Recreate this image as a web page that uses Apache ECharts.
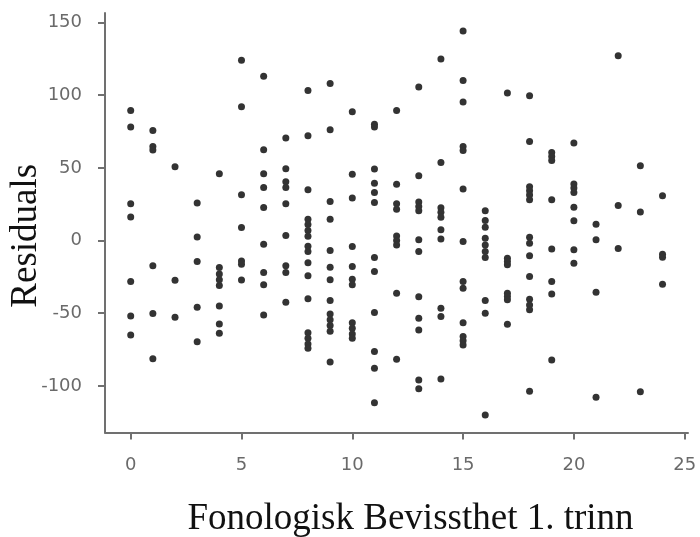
<!DOCTYPE html>
<html>
<head>
<meta charset="utf-8">
<script src="https://cdn.jsdelivr.net/npm/echarts@6/dist/echarts.min.js"></script>
<style>
html,body{margin:0;padding:0;background:#fff;}
#chart{width:700px;height:537px;}
</style>
</head>
<body>
<div id="chart"></div>
<script>
// Fonologisk Bevissthet 1. trinn scores (x)
const scores = [0,1,2,3,4,5,6,7,8,9,10,11,12,13,14,15,16,17,18,19,20,21,22,23,24];
// Residuals per score
const residualsByScore = [
  [89.5, 78.1, 25.3, 16.2, -28.2, -51.9, -65],
  [75.8, 64.7, 62.4, -17.3, -50.2, -81.3],
  [50.8, -27.3, -52.8],
  [25.9, 2.5, -14.5, -45.9, -69.6],
  [45.9, -18.5, -23, -27, -31, -45, -57.5, -63.8],
  [124, 92, 31.5, 9, -14, -16.3, -27.1],
  [113, 62.5, 46, 36.5, 22.7, -2.5, -22, -30.5, -51.2],
  [70.5, 49.4, 40.5, 36.5, 25.3, 3.4, -17.4, -22, -42.4],
  [103.3, 72.1, 34.9, 14.7, 11, 7, 3, -4, -7.6, -15.2, -24.3, -40.1, -63.4, -67.3, -71.2, -74.2],
  [108, 76.2, 26.9, 14.7, -6.9, -18.3, -27, -41.3, -50.5, -54.5, -58.5, -62.5, -83.5],
  [88.6, 45.7, 29.2, -4.1, -17.9, -26.6, -30.5, -56.5, -60.4, -64.3, -67.3],
  [80.1, 78.1, 49.2, 39.5, 33.1, 26.2, -11.7, -21.3, -49.6, -76.4, -87.9, -111.6],
  [89.5, 38.8, 25.3, 21.6, 3.2, 0, -3, -36.2, -81.7],
  [105.6, 44.6, 26.5, 23.5, 20.5, 0.5, -7.6, -38.6, -53.4, -61.5, -96, -102],
  [124.9, 53.7, 22.5, 19.5, 16, 7.4, 1, -46.6, -52.3, -95.3],
  [144.2, 110.2, 95.3, 64.7, 62, 35.4, -0.7, -28.2, -32.8, -56.5, -66.1, -68.9, -71.9],
  [20.5, 13.8, 9.2, 1.6, -3, -7.6, -11.7, -41.3, -50, -120],
  [101.5, -12.1, -14.4, -16.7, -36.2, -38.5, -40.8, -57.6],
  [99.6, 68.2, 37, 34.2, 31.3, 28, 2.3, -1.8, -10.5, -24.8, -40.4, -44.3, -47.7, -103.7],
  [60.6, 57.9, 55.1, 28, -5.9, -28.2, -36.7, -82.2],
  [67.1, 39, 36.1, 33.1, 23, 13.6, -6.4, -15.6],
  [11.3, 0.5, -35.5, -107.9],
  [127.2, 24.1, -5.5],
  [51.4, 19.7, -104],
  [30.8, -9.4, -11.5, -30.1]
];
const xTicks = [0, 5, 10, 15, 20, 25];
const yTicks = [-100, -50, 0, 50, 100, 150];
const xTitle = 'Fonologisk Bevissthet 1. trinn';
const yTitle = 'Residuals';

const points = [];
scores.forEach(function (s, i) {
  residualsByScore[i].forEach(function (r) { points.push([s, r]); });
});

const chart = echarts.init(document.getElementById('chart'), null, {renderer: 'canvas'});
const axisColor = '#707070';
const labelFont = 'DejaVu Sans, Verdana, sans-serif';
chart.setOption({
  animation: false,
  backgroundColor: '#ffffff',
  grid: {left: 105, right: 12, top: 13, bottom: 104.5, containLabel: false, outerBoundsMode: 'none'},
  xAxis: {
    type: 'value',
    min: -1.16,
    max: 25.15,
    splitLine: {show: false},
    axisLine: {show: true, onZero: false, lineStyle: {color: axisColor, width: 2}},
    axisTick: {show: true, length: 7, customValues: xTicks, lineStyle: {color: axisColor, width: 2}},
    axisLabel: {customValues: xTicks, color: '#6a6a6a', fontFamily: labelFont, fontSize: 18, margin: 24},
    name: xTitle,
    nameLocation: 'middle',
    nameGap: 68,
    nameMoveOverlap: false,
    nameTextStyle: {fontFamily: 'Liberation Serif, Times New Roman, serif', fontSize: 37, color: '#111', padding: [0, 0, 0, 28]}
  },
  yAxis: {
    type: 'value',
    min: -132.1,
    max: 156.6,
    splitLine: {show: false},
    axisLine: {show: true, onZero: false, lineStyle: {color: axisColor, width: 2}},
    axisTick: {show: true, length: 7, customValues: yTicks, lineStyle: {color: axisColor, width: 2}},
    axisLabel: {customValues: yTicks, color: '#6a6a6a', fontFamily: labelFont, fontSize: 18, margin: 23},
    name: yTitle,
    nameLocation: 'middle',
    nameGap: 60,
    nameRotate: 90,
    nameMoveOverlap: false,
    nameTextStyle: {fontFamily: 'Liberation Serif, Times New Roman, serif', fontSize: 37, color: '#111', padding: [0, 26, 0, 0]}
  },
  series: [{
    type: 'scatter',
    data: points,
    symbol: 'circle',
    symbolSize: 7,
    itemStyle: {color: '#333333', opacity: 1},
    silent: true
  }]
});
</script>
</body>
</html>
